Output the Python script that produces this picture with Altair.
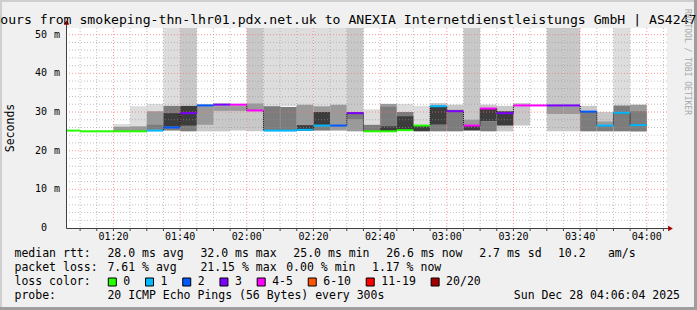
import altair as alt
import pandas as pd

_ = None

# ---------------- data ----------------
interval_start = ["01:05", "01:10", "01:15", "01:20", "01:25", "01:30", "01:35", "01:40", "01:45", "01:50",
                  "01:55", "02:00", "02:05", "02:10", "02:15", "02:20", "02:25", "02:30", "02:35", "02:40",
                  "02:45", "02:50", "02:55", "03:00", "03:05", "03:10", "03:15", "03:20", "03:25", "03:30",
                  "03:35", "03:40", "03:45", "03:50", "03:55"]
STEP_MIN = 5

median_ms = [25.2, 25.0, 25.0, 25.0, 25.0, 25.2, 26.0, 29.7, 31.7, 31.9,
             31.9, 30.4, 25.2, 25.2, 25.4, 26.5, 26.5, 29.7, 25.0, 25.0,
             25.3, 26.5, 31.5, 30.2, 26.5, 30.9, 29.7, 31.7, 31.7, 31.7,
             31.7, 30.1, 26.5, 29.8, 26.6]

loss_class = ["0", "0", "0", "0", "0", "1", "2", "3", "2", "3",
              "4-5", "4-5", "1", "1", "1", "1", "2", "3", "0", "0",
              "0", "0", "1", "3", "4-5", "4-5", "3", "4-5", "4-5", "3",
              "3", "2", "1", "1", "1"]

loss_labels = ["0", "1", "2", "3", "4-5", "6-10", "11-19", "20/20"]
loss_colors = ["#26ff00", "#00b8ff", "#0059ff", "#7e00ff", "#ff00ff", "#ff5500", "#ff0000", "#a10000"]

# smoke bands (ms), lightest level first
smoke_levels = ["L1", "L2", "L3", "L4", "L5"]
smoke_colors = ["#dddddd", "#c8c8c8", "#9a9a9a", "#7c7c7c", "#3c3c3c"]

L1_lo = [_, _, _, 25.0, 25.0,   25.2, 31.6, _, _, _,   _, _, 31.3, 31.5, 31.9,   31.5, 31.9, _, 26.7, _,
         30.0, 26.5, _, _, _,   _, _, _, _, _,   _, _, _, 31.7, _]
L1_hi = [_, _, _, 26.9, 31.5,   32.1, 75, _, _, _,   _, _, 75, 75, 75,   75, 75, _, 30.7, _,
         32.1, 31.6, _, _, _,   _, _, _, _, _,   _, _, _, 75, _]
L2_lo = [_, _, _, _, _,   _, _, 31.6, 25.0, 25.0,   25.2, 25.0, _, _, _,   _, _, 30.0, _, _,
         _, _, 31.5, 30.6, 26.5,   31.0, 25.0, 26.5, _, 25.0,   25.0, 30.0, 27.6, _, _]
L2_hi = [_, _, _, _, _,   _, _, 75, 32.0, 32.3,   32.1, 75, _, _, _,   _, _, 75, _, _,
         _, _, 32.3, 31.9, 75,   31.9, 31.6, 32.3, _, 75,   75, 31.6, 30.0, _, _]
L3_lo = [_, _, _, 25.0, 25.0,   25.6, _, _, 26.7, 30.3,   30.3, 30.5, _, _, 25.2,   30.0, 25.2, 25.0, _, 31.5,
         _, _, _, _, 26.5,   _, _, _, _, 29.5,   29.5, _, 26.5, _, 25.0]
L3_hi = [_, _, _, 26.2, 26.3,   30.2, _, _, 31.5, 31.5,   31.5, 32.2, _, _, 31.9,   31.5, 31.9, 28.0, _, 32.1,
         _, _, _, _, 28.0,   _, _, _, _, 31.7,   31.5, _, 27.6, _, 31.9]
L4_lo = [_, _, _, _, _,   25.4, 25.2, 25.0, _, _,   _, _, 25.2, 25.2, _,   25.2, _, 28.0, 25.0, 25.0,
         25.3, _, 25.0, 25.0, _,   25.0, _, _, _, _,   _, 25.0, 25.0, 25.0, 25.0]
L4_hi = [_, _, _, _, _,   26.7, 31.6, 29.7, _, _,   _, _, 31.5, 31.3, _,   26.5, _, 30.0, 26.7, 31.5,
         30.0, _, 26.7, 30.6, _,   27.6, _, _, _, _,   _, 30.0, 26.5, 31.7, 30.2]
L5_lo = [_, _, _, _, _,   _, 26.3, 26.5, _, _,   _, _, _, _, 25.2,   26.5, _, _, _, 25.0,
         25.3, 25.0, 26.7, _, 25.2,   27.6, 26.5, _, _, _,   _, _, _, _, _]
L5_hi = [_, _, _, _, _,   _, 29.7, 31.6, _, _,   _, _, _, _, 26.6,   30.0, _, _, _, 26.3,
         28.9, 26.5, 31.5, _, 26.5,   31.0, 30.2, _, _, _,   _, _, _, _, _]

x_tick_labels = ["01:20", "01:40", "02:00", "02:20", "02:40", "03:00", "03:20", "03:40", "04:00"]
y_tick_values = [0, 10, 20, 30, 40, 50]

title_text = "Last 3 Hours from smokeping-thn-lhr01.pdx.net.uk to ANEXIA Internetdienstleistungs GmbH | AS4247"
y_title = "Seconds"
watermark = "RRDTOOL / TOBI OETIKER"
row_rtt = [(0, "median rtt:"), (13, "28.0 ms avg"), (26, "32.0 ms max"), (39, "25.0 ms min"),
           (52, "26.6 ms now"), (65, "2.7 ms sd"), (76, "10.2"), (83, "am/s")]
row_loss = [(0, "packet loss:"), (13, "7.61 % avg"), (26, "21.15 % max"), (38, "0.00 % min"), (50, "1.17 % now")]
row_color = [(0, "loss color:")]
row_probe = [(0, "probe:"), (13, "20 ICMP Echo Pings (56 Bytes) every 300s")]
stamp = "Sun Dec 28 04:06:04 2025"

# ---------------- layout ----------------
FONT = "DejaVu Sans Mono"
W, H = 600, 200
PAD = {"left": 67, "top": 28, "right": 30, "bottom": 82}


def to_min(s):
    h, m = s.split(":")
    return int(h) * 60 + int(m)


X_MIN = 66 + 4 / 60
X_MAX = X_MIN + 180
Y_MAX = 51.73
xs = alt.Scale(domain=[X_MIN, X_MAX], nice=False, zero=False)
ys = alt.Scale(domain=[0, Y_MAX], nice=False, zero=False)

starts = [to_min(s) for s in interval_start]
ends = [s + STEP_MIN for s in starts]

rows = []
for lvl, los, his in zip(smoke_levels, [L1_lo, L2_lo, L3_lo, L4_lo, L5_lo], [L1_hi, L2_hi, L3_hi, L4_hi, L5_hi]):
    for k, (lo, hi) in enumerate(zip(los, his)):
        if lo is None:
            continue
        rows.append({"x0": starts[k], "x1": ends[k], "lo": lo, "hi": hi, "level": lvl})
smoke_df = pd.DataFrame(rows)

med_df = pd.DataFrame({"x0": starts, "x1": ends, "m": median_ms, "loss": loss_class})
line_df = pd.DataFrame({"t": starts + [ends[-1]], "m": median_ms + [median_ms[-1]]})

layers = []
one = pd.DataFrame({"a": [0]})


def box(x1, x2, y1, y2, color, stroke=None):
    kw = {"fill": color}
    if stroke:
        kw.update(stroke=stroke, strokeWidth=1)
    return alt.Chart(one).mark_rect(**kw).encode(
        x=alt.value(x1), x2=alt.value(x2), y=alt.value(y1), y2=alt.value(y2))


def txt(x, y, s, size, align="left", baseline="middle", angle=0, color="#000000"):
    return alt.Chart(pd.DataFrame({"s": [s]})).mark_text(
        align=align, baseline=baseline, angle=angle, fontSize=size, font=FONT, color=color
    ).encode(x=alt.value(x), y=alt.value(y), text="s:N")


# frame shading
layers.append(box(-67, -65, -28, 282, "#cfcfcf"))
layers.append(box(-67, 630, -28, -26, "#cfcfcf"))
layers.append(box(627, 630, -28, 282, "#9e9e9e"))
layers.append(box(-67, 630, 279, 282, "#9e9e9e"))

# smoke
layers.append(alt.Chart(smoke_df).mark_rect(clip=True).encode(
    x=alt.X("x0:Q", scale=xs, axis=None), x2="x1:Q",
    y=alt.Y("lo:Q", scale=ys, axis=None), y2="hi:Q",
    fill=alt.Fill("level:N", scale=alt.Scale(domain=smoke_levels, range=smoke_colors), legend=None)))

# grid
major_t = [to_min(s) for s in x_tick_labels]
minor_t = [t for t in range(70, 246, 5) if t not in major_t]
minor_y = [v for v in range(2, 52, 2) if v % 10 != 0]
major_y = [v for v in y_tick_values if v > 0]
GRID = "rgba(150,150,150,0.6)"
MGRID = "rgba(255,110,110,0.7)"
layers.append(alt.Chart(pd.DataFrame({"t": minor_t})).mark_rule(strokeDash=[1, 2], color=GRID, strokeWidth=1).encode(
    x=alt.X("t:Q", scale=xs, axis=None)))
layers.append(alt.Chart(pd.DataFrame({"v": minor_y})).mark_rule(strokeDash=[1, 2], color=GRID, strokeWidth=1).encode(
    y=alt.Y("v:Q", scale=ys, axis=None)))
layers.append(alt.Chart(pd.DataFrame({"t": major_t})).mark_rule(strokeDash=[1, 2], color=MGRID, strokeWidth=1).encode(
    x=alt.X("t:Q", scale=xs, axis=None)))
layers.append(alt.Chart(pd.DataFrame({"v": major_y})).mark_rule(strokeDash=[1, 2], color=MGRID, strokeWidth=1).encode(
    y=alt.Y("v:Q", scale=ys, axis=None)))

# median connectors + coloured median
layers.append(alt.Chart(line_df).mark_line(interpolate="step-after", clip=True, color="#000000",
                                           strokeDash=[1, 1], strokeWidth=1).encode(
    x=alt.X("t:Q", scale=xs, axis=None), y=alt.Y("m:Q", scale=ys, axis=None)))
layers.append(alt.Chart(med_df).mark_rule(clip=True, strokeWidth=2).encode(
    x=alt.X("x0:Q", scale=xs, axis=None), x2="x1:Q",
    y=alt.Y("m:Q", scale=ys, axis=None),
    stroke=alt.Stroke("loss:N", scale=alt.Scale(domain=loss_labels, range=loss_colors), legend=None)))

# axes
AX = "#404040"
layers.append(alt.Chart(one).mark_rule(color=AX, strokeWidth=1).encode(
    x=alt.value(-0.5), x2=alt.value(603), y=alt.value(200.5)))
layers.append(alt.Chart(one).mark_rule(color=AX, strokeWidth=1).encode(
    x=alt.value(-0.5), y=alt.value(200.5), y2=alt.value(-5)))
layers.append(alt.Chart(pd.DataFrame({"t": sorted(minor_t + major_t)})).mark_rule(color=AX, strokeWidth=1).encode(
    x=alt.X("t:Q", scale=xs, axis=None), y=alt.value(200.5), y2=alt.value(203)))
layers.append(alt.Chart(one).mark_point(shape="triangle-right", filled=True, size=30, color="#a00000", opacity=1).encode(
    x=alt.value(603.5), y=alt.value(200.5)))
layers.append(alt.Chart(one).mark_point(shape="triangle-up", filled=True, size=30, color="#a00000", opacity=1).encode(
    x=alt.value(-0.5), y=alt.value(-5.5)))

# tick labels
layers.append(alt.Chart(pd.DataFrame({"t": major_t, "lab": x_tick_labels})).mark_text(
    fontSize=10, font=FONT, color="#000000", baseline="middle", align="center").encode(
    x=alt.X("t:Q", scale=xs, axis=None), y=alt.value(209), text="lab:N"))
layers.append(alt.Chart(pd.DataFrame({"v": y_tick_values, "lab": [str(v) for v in y_tick_values]})).mark_text(
    fontSize=10, font=FONT, color="#000000", baseline="middle", align="right").encode(
    y=alt.Y("v:Q", scale=ys, axis=None), x=alt.value(-20), text="lab:N"))
layers.append(alt.Chart(pd.DataFrame({"v": major_y, "lab": ["m"] * len(major_y)})).mark_text(
    fontSize=10, font=FONT, color="#000000", baseline="middle", align="right").encode(
    y=alt.Y("v:Q", scale=ys, axis=None), x=alt.value(-7), text="lab:N"))

# titles
layers.append(txt(-130, -4.5, title_text, 13.15, baseline="alphabetic"))
layers.append(txt(-56.5, 100, y_title, 11.5, align="center", angle=270))
layers.append(txt(619.7, 34, watermark, 8, align="center", angle=90, color="#a8a8a8"))

# legend rows
X0, CW = -52.5, 7.15
for row, yy in [(row_rtt, 226.3), (row_loss, 240.3), (row_color, 254.3), (row_probe, 268.3)]:
    for col, s in row:
        layers.append(txt(X0 + col * CW, yy, s, 11.5))
layers.append(txt(613, 268.3, stamp, 11.5, align="right"))

bx = 108.3 - 67
for lab, col in zip(loss_labels, loss_colors):
    layers.append(box(bx, bx + 8, 250, 258, col, stroke="#000000"))
    layers.append(txt(bx + 15, 254.3, lab, 11.5))
    bx = bx + 15 + len(lab) * 6.92 + 15.3

chart = alt.layer(*layers).properties(
    width=W, height=H, padding=PAD,
    autosize=alt.AutoSizeParams(type="none"),
    background="#f0f0f0",
).configure_view(fill="white", stroke=None)

chart.save("out.html", embed_options={"renderer": "svg", "actions": False})
